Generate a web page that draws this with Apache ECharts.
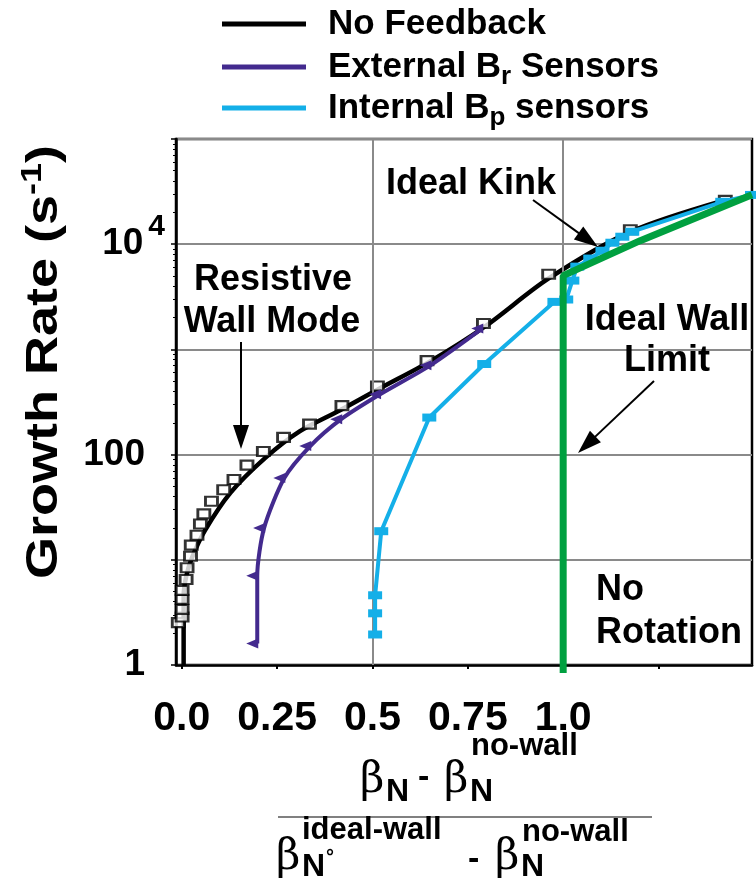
<!DOCTYPE html>
<html><head><meta charset="utf-8">
<script src="https://cdn.jsdelivr.net/npm/echarts@6/dist/echarts.min.js"></script>
<style>html,body{margin:0;padding:0;background:#fff}#c{width:756px;height:882px}</style>
</head><body><div id="c"></div><script>
// ---------- data ----------
const xTickValues = [0, 0.25, 0.5, 0.75, 1.0];
const xTickLabels = ['0.0', '0.25', '0.5', '0.75', '1.0'];
const xTickMarks = [0, 0.25, 0.5, 0.75, 1.0, 1.25];
const xGridValues = [0.5, 1.0];

// No Feedback: fitted curve
const noFbLineX = [0.005, 0.005, 0.012, 0.027, 0.061, 0.127, 0.219, 0.310, 0.415, 0.520, 0.651, 0.795, 0.961, 1.176, 1.417];
const noFbLineY = [1.0, 4.5, 7, 10.5, 19, 43, 93, 167, 264, 427, 769, 1650, 4700, 13100, 25800];
// No Feedback: computed points (hollow squares)
const noFbPtsX = [-0.009, 0.001, 0.001, 0.001, 0.001, 0.0115, 0.014, 0.023, 0.025, 0.040, 0.049, 0.058, 0.078, 0.110, 0.137, 0.171, 0.214, 0.267, 0.335, 0.420, 0.513, 0.643, 0.791, 0.962, 1.176, 1.425];
const noFbPtsY = [2.53, 2.86, 3.38, 4.21, 5.12, 6.5, 8.4, 10.8, 13.8, 17.1, 21.9, 27.3, 36, 46.3, 58, 79.4, 107, 146, 195, 292, 449, 781, 1762, 5180, 13720, 26100];

// External Br sensors
const extX = [0.198, 0.198, 0.216, 0.269, 0.337, 0.418, 0.520, 0.652, 0.788];
const extY = [1.6, 7.05, 20.1, 59.8, 120.5, 217, 374, 705, 1582];

// Internal Bp sensors
const intX = [0.507, 0.507, 0.507, 0.523, 0.649, 0.793, 0.977, 1.008, 1.024, 1.037, 1.071, 1.103, 1.129, 1.155, 1.181, 1.417, 1.495];
const intY = [1.95, 3.1, 4.6, 18.7, 225, 726, 2830, 2980, 4510, 6120, 7300, 8670, 10330, 11780, 13140, 25300, 29400];

// No Rotation / ideal wall limit (green)
const noRotX = [1.0, 1.0, 1.202, 1.495];
const noRotY = [0.84, 5020, 10800, 29500];

const legendNames = ['No Feedback', 'External B{sub|r} Sensors', 'Internal B{sub|p} sensors'];

// ---------- styles ----------
const FONT = '"Liberation Sans", Arial, Helvetica, sans-serif';
const C_BLACK = '#000000', C_PURPLE = '#432a8e', C_CYAN = '#14afe8', C_GREEN = '#00a040', C_GRID = '#8a8a8a';

function zip(xs, ys) { return xs.map((x, i) => [x, ys[i]]); }

const chart = echarts.init(document.getElementById('c'), null, {renderer: 'canvas'});

function arrow(x1, y1, x2, y2) {
  const dx = x2 - x1, dy = y2 - y1, L = Math.hypot(dx, dy), ux = dx / L, uy = dy / L;
  const hl = 24, hw = 8;
  const bx = x2 - ux * hl, by = y2 - uy * hl;
  return [
    {type: 'line', shape: {x1: x1, y1: y1, x2: bx + ux * 2, y2: by + uy * 2}, style: {stroke: '#000', lineWidth: 2}, z: 100},
    {type: 'polygon', shape: {points: [[x2, y2], [bx - uy * hw, by + ux * hw], [bx + uy * hw, by - ux * hw]]}, style: {fill: '#000'}, z: 100}
  ];
}
function txt(x, y, text, size, opts) {
  return Object.assign({type: 'text', x: x, y: y, z: 100, style: Object.assign({
    text: text, font: 'bold ' + size + 'px ' + FONT, fill: '#000', align: 'center', verticalAlign: 'middle'
  }, (opts && opts.style) || {})}, (opts && opts.el) || {});
}

const legendColors = [C_BLACK, C_PURPLE, C_CYAN];
const legendY = [24, 67, 108];
const graphics = [];
legendNames.forEach((n, i) => {
  graphics.push({type: 'line', shape: {x1: 222, y1: legendY[i], x2: 306, y2: legendY[i]}, style: {stroke: legendColors[i], lineWidth: 5}});
  graphics.push({type: 'text', x: 328, y: legendY[i], style: {
    text: n, font: 'bold 35px ' + FONT, fill: '#000', align: 'left', verticalAlign: 'middle',
    rich: {sub: {font: 'bold 26px ' + FONT, fill: '#000', padding: [20, 0, 0, 0]}}
  }});
});

// annotations
graphics.push(txt(471, 184, 'Ideal Kink', 36));
graphics.push(...arrow(533, 200, 598, 247));
graphics.push(txt(273, 280, 'Resistive', 36));
graphics.push(txt(272, 322, 'Wall Mode', 36));
graphics.push(...arrow(241, 342, 241, 449));
graphics.push(txt(667, 320, 'Ideal Wall', 36));
graphics.push(txt(667, 361, 'Limit', 36));
graphics.push(...arrow(654, 381, 578, 453));
graphics.push(txt(596, 590, 'No', 36, {style: {align: 'left'}}));
graphics.push(txt(596, 633, 'Rotation', 36, {style: {align: 'left'}}));

// y axis title
graphics.push({type: 'text', x: 45, y: 362, rotation: Math.PI / 2, scaleX: 1.2, z: 100, style: {
  text: 'Growth Rate (s{sup|-1})', font: 'bold 45px ' + FONT, fill: '#000', align: 'center', verticalAlign: 'middle',
  rich: {sup: {font: 'bold 30px ' + FONT, fill: '#000', padding: [0, 0, 24, 0]}}
}});

// x axis title (fraction)
const beta = 'normal 42px "DejaVu Serif", "Liberation Serif", serif';
function piece(x, y, text, font, align) {
  return {type: 'text', x: x, y: y, z: 100, style: {text: text, font: font, fill: '#000', align: align || 'left', verticalAlign: 'middle'}};
}
// numerator
graphics.push(piece(360, 781, 'β', beta));
graphics.push(piece(386, 792, 'N', 'bold 32px ' + FONT));
graphics.push(piece(418, 778, '-', 'bold 34px ' + FONT));
graphics.push(piece(444, 781, 'β', beta));
graphics.push(piece(470, 792, 'N', 'bold 32px ' + FONT));
graphics.push(piece(471, 746, 'no-wall', 'bold 31px ' + FONT));
// fraction bar
graphics.push({type: 'line', shape: {x1: 278, y1: 817, x2: 652, y2: 817}, style: {stroke: '#808080', lineWidth: 2}});
// denominator
graphics.push(piece(276, 858, 'β', beta));
graphics.push(piece(302, 867, 'N', 'bold 32px ' + FONT));
graphics.push(piece(326, 857, '°', 'bold 20px ' + FONT));
graphics.push(piece(302, 830, 'ideal-wall', 'bold 31px ' + FONT));
graphics.push(piece(468, 860, '-', 'bold 34px ' + FONT));
graphics.push(piece(495, 858, 'β', beta));
graphics.push(piece(521, 867, 'N', 'bold 32px ' + FONT));
graphics.push(piece(522, 832, 'no-wall', 'bold 31px ' + FONT));

const option = {
  animation: false,
  backgroundColor: '#fff',
  textStyle: {fontFamily: FONT},
  grid: {left: 176, top: 139, right: 4, bottom: 217, outerBoundsMode: 'none', containLabel: false,
    show: true, borderColor: '#000', borderWidth: 2.5, backgroundColor: 'transparent'},
  xAxis: {
    type: 'value', min: -0.015, max: 1.495,
    axisLine: {show: true, onZero: false, lineStyle: {color: '#000', width: 2.5}},
    axisTick: {show: true, inside: false, length: 4, lineStyle: {color: '#000', width: 2}, customValues: xTickMarks},
    axisLabel: {show: true, customValues: xTickValues, margin: 33, color: '#000', fontSize: 41, fontWeight: 'bold', fontFamily: FONT,
      formatter: function (v) { const i = xTickValues.findIndex(t => Math.abs(t - v) < 1e-6); return i >= 0 ? xTickLabels[i] : ''; }},
    splitLine: {show: false}
  },
  yAxis: {
    type: 'log', logBase: 10, min: 1, max: 100000,
    axisLine: {show: true, onZero: false, lineStyle: {color: '#000', width: 2.5}},
    axisTick: {show: true, inside: false, length: 5, lineStyle: {color: '#000', width: 1.5}},
    minorTick: {show: true, splitNumber: 9, length: 3, lineStyle: {color: '#000', width: 1}},
    axisLabel: {margin: 11, color: '#000', fontFamily: FONT,
      formatter: function (v) {
        if (Math.abs(v - 1) < 1e-9) return '{n|1}';
        if (Math.abs(v - 100) < 1e-6) return '{n|100}';
        if (Math.abs(v - 10000) < 1e-3) return '{m|10}{sup|4}';
        return '';
      },
      rich: {
        n: {fontSize: 37, fontWeight: 'bold', color: '#000', fontFamily: FONT, padding: [0, 20, 0, 0]},
        m: {fontSize: 37, fontWeight: 'bold', color: '#000', fontFamily: FONT},
        sup: {fontSize: 30, fontWeight: 'bold', color: '#000', fontFamily: FONT, padding: [0, 0, 34, 5]}
      }},
    splitLine: {show: true, lineStyle: {color: C_GRID, width: 2}}
  },
  graphic: graphics,
  series: [
    {name: 'grid', type: 'line', data: [], silent: true,
      markLine: {silent: true, symbol: 'none', label: {show: false}, lineStyle: {color: C_GRID, width: 2, type: 'solid'},
        data: xGridValues.map(v => ({xAxis: v}))}},
    {name: 'No Feedback', type: 'line', data: zip(noFbLineX, noFbLineY), smooth: 0.3, showSymbol: false,
      lineStyle: {color: C_BLACK, width: 4.5}, z: 3},
    {name: 'No Feedback points', type: 'scatter', data: zip(noFbPtsX, noFbPtsY), symbol: 'rect', symbolSize: [12, 9],
      itemStyle: {color: '#fff', borderColor: '#000', borderWidth: 2.5}, z: 4},
    {name: 'External Br Sensors', type: 'line', data: zip(extX, extY), smooth: 0.25, symbol: 'triangle', symbolSize: [10, 12],
      symbolRotate: 90, symbolOffset: [-5, 0], showAllSymbol: true,
      lineStyle: {color: C_PURPLE, width: 4}, itemStyle: {color: C_PURPLE}, z: 5},
    {name: 'Internal Bp sensors', type: 'line', data: zip(intX, intY), smooth: false, symbol: 'rect', symbolSize: [14, 8], showAllSymbol: true,
      lineStyle: {color: C_CYAN, width: 4}, itemStyle: {color: C_CYAN}, z: 6},
    {name: 'No Rotation', type: 'line', data: zip(noRotX, noRotY), showSymbol: false, clip: false,
      lineStyle: {color: C_GREEN, width: 7}, z: 7}
  ]
};
chart.setOption(option);
</script></body></html>
